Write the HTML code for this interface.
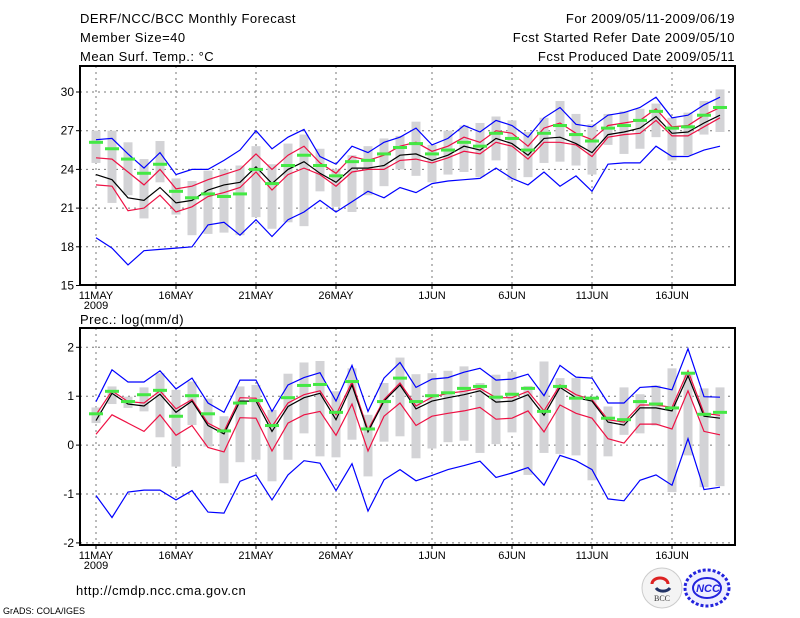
<!DOCTYPE html>
<html><head><meta charset="utf-8"><style>
body{margin:0;background:#fff;}
svg{display:block;font-family:"Liberation Sans",sans-serif;}
</style></head><body>
<svg id="chart" width="800" height="618" viewBox="0 0 800 618">
<g font-size="13" fill="#000" letter-spacing="0.5">
<text x="80" y="23">DERF/NCC/BCC Monthly Forecast</text>
<text x="80" y="42">Member Size=40</text>
<text x="80" y="61">Mean Surf. Temp.: °C</text>
<text x="735" y="23" text-anchor="end">For 2009/05/11-2009/06/19</text>
<text x="735" y="42" text-anchor="end">Fcst Started Refer Date 2009/05/10</text>
<text x="735" y="61" text-anchor="end">Fcst Produced Date 2009/05/11</text>
<text x="80" y="324">Prec.: log(mm/d)</text>
<text x="76" y="595">http://cmdp.ncc.cma.gov.cn</text>
<text x="3" y="614" font-size="9" letter-spacing="0">GrADS: COLA/IGES</text>
</g>
<g>
<circle cx="662" cy="588" r="20" fill="#f4f4f4" stroke="#ccc"/>
<path d="M652 584 a8 6 0 0 1 16 0" fill="none" stroke="#d22" stroke-width="3"/>
<path d="M656 588 a8 6 0 0 0 14 0" fill="none" stroke="#236" stroke-width="3"/>
<text x="662" y="601" font-size="8" text-anchor="middle" font-family="Liberation Serif,serif" fill="#333">BCC</text>
</g>
<g>
<ellipse cx="707" cy="588" rx="22" ry="18" fill="#eef" stroke="#22d" stroke-width="3" stroke-dasharray="3 2"/>
<ellipse cx="707" cy="588" rx="14" ry="10" fill="none" stroke="#22d" stroke-width="2"/>
<text x="708" y="592" font-size="11" font-style="italic" font-weight="bold" text-anchor="middle" fill="#22d">NCC</text>
</g>
<g id="top"></g>
<g id="bot"></g>
</svg>
<script>
// ---- Temperature data ----
const tBlueHi=[26.3,26.4,25.2,24.1,25.3,23.6,24.0,24.0,24.7,25.5,27.0,25.6,26.5,27.1,25.0,24.4,25.8,25.3,26.1,26.5,27.2,25.9,26.4,27.4,26.9,27.8,27.4,26.5,28.0,28.8,27.5,27.3,28.2,28.4,28.8,29.6,28.0,28.2,29.0,29.6];
const tBlueLo=[18.7,17.9,16.6,17.7,17.8,17.9,18.0,19.7,19.9,18.9,20.1,18.8,20.1,20.7,21.6,20.7,21.5,22.3,21.8,22.6,22.2,22.9,23.1,23.2,23.3,24.1,23.3,22.8,23.8,22.7,23.5,22.3,24.4,24.5,24.5,25.8,25.0,25.0,25.5,25.8];
const tRedHi=[24.9,24.8,23.8,22.8,24.0,22.5,22.7,23.2,23.6,24.0,25.2,24.0,25.1,25.8,24.5,23.7,25.0,24.7,25.1,25.8,26.1,25.4,25.8,26.5,26.1,27.0,26.8,25.8,27.2,27.6,26.8,26.3,27.4,27.6,27.8,28.7,27.3,27.4,28.2,28.8];
const tMean=[23.6,23.2,21.8,21.6,22.6,21.4,21.6,22.4,22.8,23.0,24.2,22.9,24.0,24.6,23.7,23.0,24.1,24.1,24.3,25.1,25.2,24.7,25.1,25.8,25.5,26.4,26.0,25.1,26.4,26.5,26.0,25.3,26.7,26.9,27.2,28.1,26.8,26.9,27.6,28.2];
const tRedLo=[22.8,22.7,20.8,21.0,22.0,20.7,21.1,21.9,22.2,22.6,23.8,22.4,23.6,24.1,23.6,22.7,23.8,24.0,24.0,24.7,24.8,24.5,24.9,25.4,25.2,26.1,25.8,24.8,26.1,26.1,25.9,25.0,26.5,26.7,26.8,27.8,26.6,26.6,27.3,28.0];
const tGreen=[26.1,25.6,24.8,23.7,24.4,22.3,21.8,22.1,21.9,22.1,24.0,22.9,24.3,25.1,24.3,23.5,24.6,24.7,25.2,25.7,26.0,25.2,25.5,26.1,25.8,26.8,26.4,25.5,26.8,27.4,26.7,26.2,27.2,27.4,27.8,28.5,27.2,27.3,28.2,28.8];
const tBarHi=[27.0,27.0,26.1,24.8,26.2,23.3,23.1,23.9,24.0,24.3,25.8,24.4,26.0,26.7,25.6,24.0,25.1,25.8,26.4,26.6,27.7,25.9,27.0,27.4,27.6,28.1,27.8,26.9,28.0,29.3,28.3,27.5,28.3,28.5,28.7,29.1,28.0,28.4,29.3,30.2];
const tBarLo=[24.5,21.4,22.0,20.2,23.0,20.5,18.9,19.0,19.1,18.9,20.3,19.4,19.9,19.6,22.3,21.1,20.7,22.0,22.7,24.0,23.5,23.0,23.6,23.8,23.4,24.7,23.2,23.4,24.5,24.6,24.3,23.6,25.9,25.2,25.6,26.5,24.7,25.1,26.7,26.9];
const tTicks=[15,18,21,24,27,30];
// ---- Precipitation data ----
const pBlueHi=[0.89,1.54,1.29,1.29,1.52,1.15,1.37,0.86,0.67,1.33,1.33,0.69,1.23,1.38,1.48,0.90,1.63,0.69,1.37,1.69,1.18,1.35,1.38,1.49,1.57,1.33,1.35,1.45,1.01,1.63,1.39,1.37,0.86,0.86,1.18,1.20,1.13,1.97,0.99,0.98];
const pBlueLo=[-1.03,-1.48,-0.96,-0.92,-0.92,-1.12,-0.93,-1.37,-1.39,-0.74,-0.61,-1.12,-0.61,-0.32,-0.37,-0.93,-0.38,-1.35,-0.71,-0.50,-0.73,-0.62,-0.50,-0.42,-0.33,-0.66,-0.57,-0.46,-0.82,-0.21,-0.32,-0.50,-1.10,-1.14,-0.72,-0.61,-0.82,0.13,-0.91,-0.86];
const pRedHi=[0.62,1.11,0.89,0.86,1.11,0.74,0.93,0.45,0.28,0.97,0.96,0.38,0.86,1.03,1.11,0.62,1.29,0.31,0.93,1.27,0.80,0.98,1.06,1.10,1.16,0.97,0.97,1.10,0.70,1.23,1.03,0.93,0.52,0.47,0.82,0.82,0.77,1.52,0.65,0.61];
const pMean=[0.50,1.06,0.84,0.80,1.04,0.67,0.90,0.40,0.23,0.90,0.90,0.28,0.79,0.97,1.06,0.52,1.23,0.27,0.90,1.23,0.74,0.90,0.97,1.03,1.11,0.88,0.90,1.03,0.61,1.18,0.97,0.90,0.47,0.41,0.76,0.76,0.70,1.42,0.59,0.55];
const pRedLo=[0.22,0.62,0.45,0.28,0.62,0.20,0.40,-0.05,-0.14,0.56,0.55,-0.12,0.45,0.62,0.69,0.20,0.84,-0.12,0.59,0.86,0.40,0.59,0.65,0.70,0.77,0.53,0.55,0.70,0.27,0.82,0.65,0.55,0.13,0.04,0.43,0.43,0.33,1.11,0.28,0.21];
const pGreen=[0.64,1.10,0.89,1.03,1.12,0.59,1.01,0.64,0.29,0.86,0.91,0.40,0.97,1.22,1.24,0.67,1.30,0.33,0.89,1.37,0.89,1.01,1.07,1.16,1.20,0.98,1.04,1.16,0.69,1.20,0.96,0.96,0.55,0.52,0.89,0.84,0.76,1.47,0.63,0.67];
const pBarHi=[0.77,1.20,0.99,1.18,1.47,1.13,1.30,0.95,0.59,1.20,1.23,0.72,1.46,1.69,1.72,1.10,1.57,0.62,1.27,1.79,1.45,1.47,1.52,1.61,1.27,1.44,1.50,1.21,1.71,1.37,1.37,0.95,0.79,1.18,1.04,1.22,1.57,1.44,1.16,1.18];
const pBarLo=[0.45,0.84,0.76,0.69,0.16,-0.44,0.41,-0.03,-0.78,-0.35,-0.30,-0.74,-0.30,0.24,-0.23,-0.25,0.11,-0.64,0.07,0.18,-0.27,-0.07,0.06,0.09,-0.16,0.02,0.26,-0.61,-0.16,-0.18,-0.21,-0.72,-0.23,0.21,0.24,0.40,-0.96,-0.21,-0.86,-0.84];
const pTicks=[-2,-1,0,1,2];
const dateLabels=["11MAY","16MAY","21MAY","26MAY","1JUN","6JUN","11JUN","16JUN"];
const dateIdx=[0,5,10,15,21,26,31,36];

const NS="http://www.w3.org/2000/svg";
const X0=80,X1=735;
function xScale(i){return 96+16*i;}
function mk(parent,tag,attrs){const e=document.createElementNS(NS,tag);for(const k in attrs)e.setAttribute(k,attrs[k]);parent.appendChild(e);return e;}

function panel(gid,top,bottom,yScale,ticks,series,name){
  const g=document.getElementById(gid);
  
  
  ticks.forEach(t=>{const y=yScale(t);
    const l=mk(g,'line',{x1:X0,x2:X1,y1:y,y2:y,stroke:'#777','stroke-dasharray':'2 4'});
    
    
    const tk=mk(g,'line',{x1:X0-4,x2:X0,y1:y,y2:y,stroke:'#000'});
    
    
    const tx=mk(g,'text',{x:X0-6,y:y+4,'text-anchor':'end','font-size':'12'});
    tx.textContent=String(t);
    
    
  });
  dateIdx.forEach((d,k)=>{const x=xScale(d);
    const l=mk(g,'line',{x1:x,x2:x,y1:top,y2:bottom,stroke:'#777','stroke-dasharray':'2 4'});
    
    
    const tk=mk(g,'line',{x1:x,x2:x,y1:bottom,y2:bottom+4,stroke:'#000'});
    
    
    const tx=mk(g,'text',{x:x,y:bottom+14,'text-anchor':'middle','font-size':'11'});
    tx.textContent=dateLabels[k];
    
    
  });
  const yr=mk(g,'text',{x:96,y:bottom+24,'text-anchor':'middle','font-size':'11'});
  yr.textContent='2009';
  
  
  series.barHi.forEach((v,i)=>{const y1=yScale(v),y2=yScale(series.barLo[i]);
    const r=mk(g,'rect',{x:xScale(i)-4.5,y:y1,width:9,height:y2-y1,fill:'#d3d3d6'});
    
    
  });
  const lines=[[series.blueLo,'#0000ff','min-line'],[series.blueHi,'#0000ff','max-line'],[series.redLo,'#ee1144','lower-spread-line'],[series.redHi,'#ee1144','upper-spread-line'],[series.mean,'#000','ensemble-mean-line']];
  lines.forEach(([arr,c,n])=>{
    const p=mk(g,'polyline',{points:arr.map((v,i)=>xScale(i)+','+yScale(v).toFixed(1)).join(' '),fill:'none',stroke:c,'stroke-width':1.2});
    
    
  });
  series.green.forEach((v,i)=>{
    const r=mk(g,'rect',{x:xScale(i)-7,y:yScale(v)-1.5,width:14,height:3,fill:'#44e844'});
    
    
  });
  const f=mk(g,'path',{d:`M${X0} ${top} H${X1} V${bottom} H${X0} Z`,fill:'none',stroke:'#000','stroke-width':2});
  
  
}
panel('top',66,285,v=>92+(30-v)*12.9,tTicks,{blueHi:tBlueHi,blueLo:tBlueLo,redHi:tRedHi,redLo:tRedLo,mean:tMean,green:tGreen,barHi:tBarHi,barLo:tBarLo},'temperature-panel');
panel('bot',328,545,v=>347.3+(2-v)*48.9,pTicks,{blueHi:pBlueHi,blueLo:pBlueLo,redHi:pRedHi,redLo:pRedLo,mean:pMean,green:pGreen,barHi:pBarHi,barLo:pBarLo},'precipitation-panel');
</script>
</body></html>
